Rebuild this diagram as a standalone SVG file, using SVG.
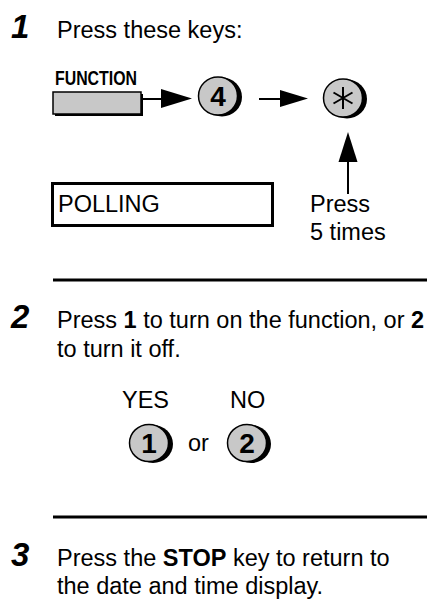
<svg xmlns="http://www.w3.org/2000/svg" width="427" height="608" viewBox="0 0 427 608">
<style>
.t{font-family:"Liberation Sans",Arial,sans-serif;font-size:23.5px;fill:#000}
.b{font-weight:bold}
.num{font-family:"Liberation Sans",Arial,sans-serif;font-size:33px;font-weight:bold;font-style:italic}
.key{fill:#c8c8c8;stroke:#000;stroke-width:1.5}
.sh{fill:#000}
.kt{font-family:"Liberation Sans",Arial,sans-serif;font-size:28px;font-weight:bold;text-anchor:middle}
.ln{stroke:#000;stroke-width:2;fill:none}
.rule{stroke:#000;stroke-width:3}
</style>
<rect width="427" height="608" fill="#fff"/>
<g id="step1">
<text class="num" x="11" y="38">1</text>
<text class="t" x="57" y="38">Press these keys:</text>
</g>
<g id="function-key">
<text x="55" y="85" font-family="'Liberation Sans',Arial,sans-serif" font-size="20" font-weight="bold" textLength="82" lengthAdjust="spacingAndGlyphs">FUNCTION</text>
<rect class="sh" x="55" y="94" width="88" height="22"/>
<rect class="key" x="53" y="92" width="88" height="22"/>
</g>
<g id="key-4">
<ellipse class="sh" cx="222" cy="97" rx="20" ry="19.5"/>
<ellipse class="key" cx="218" cy="96" rx="19.5" ry="19"/>
<text class="kt" x="218" y="106">4</text>
</g>
<g id="key-star">
<ellipse class="sh" cx="347" cy="99" rx="20" ry="19.5"/>
<ellipse class="key" cx="343" cy="98" rx="19.5" ry="19"/>
<path class="ln" stroke-width="1.6" d="M343 87V109M333.5 92.5L352.5 103.5M333.5 103.5L352.5 92.5"/>
</g>
<g id="polling-display">
<rect x="52.5" y="183.5" width="220" height="42" fill="none" stroke="#000" stroke-width="3"/>
<text class="t" x="58" y="212" font-size="21">POLLING</text>
</g>
<g id="press-label">
<text class="t" x="310" y="212">Press</text>
<text class="t" x="310" y="240">5 times</text>
</g>
<g id="connectors">
<line class="ln" x1="143" y1="99" x2="165" y2="99"/>
<polygon points="161,89 192,98.5 161,108"/>
<line class="ln" x1="259" y1="99" x2="284" y2="99"/>
<polygon points="280,90 308,98.5 280,107"/>
<line class="ln" x1="348" y1="194" x2="348" y2="158"/>
<polygon points="338.5,162 348,132 357.5,162"/>
</g>
<line class="rule" x1="53" y1="280" x2="427" y2="280"/>
<g id="step2">
<text class="num" x="11" y="328">2</text>
<text class="t" x="57" y="328">Press <tspan class="b">1</tspan> to turn on the function, or <tspan class="b">2</tspan></text>
<text class="t" x="57" y="357">to turn it off.</text>
<text class="t" x="122" y="408">YES</text>
<text class="t" x="230" y="408">NO</text>
</g>
<g id="key-1">
<ellipse class="sh" cx="153" cy="444" rx="20" ry="19"/>
<ellipse class="key" cx="149" cy="443" rx="19.5" ry="18.5"/>
<text class="kt" x="149" y="453">1</text>
</g>
<text class="t" x="188" y="451">or</text>
<g id="key-2">
<ellipse class="sh" cx="251" cy="444" rx="20" ry="19"/>
<ellipse class="key" cx="247" cy="443" rx="19.5" ry="18.5"/>
<text class="kt" x="247" y="453">2</text>
</g>
<line class="rule" x1="53" y1="517" x2="427" y2="517"/>
<g id="step3">
<text class="num" x="11" y="566">3</text>
<text class="t" x="57" y="566">Press the <tspan class="b">STOP</tspan> key to return to</text>
<text class="t" x="57" y="594">the date and time display.</text>
</g>
</svg>
